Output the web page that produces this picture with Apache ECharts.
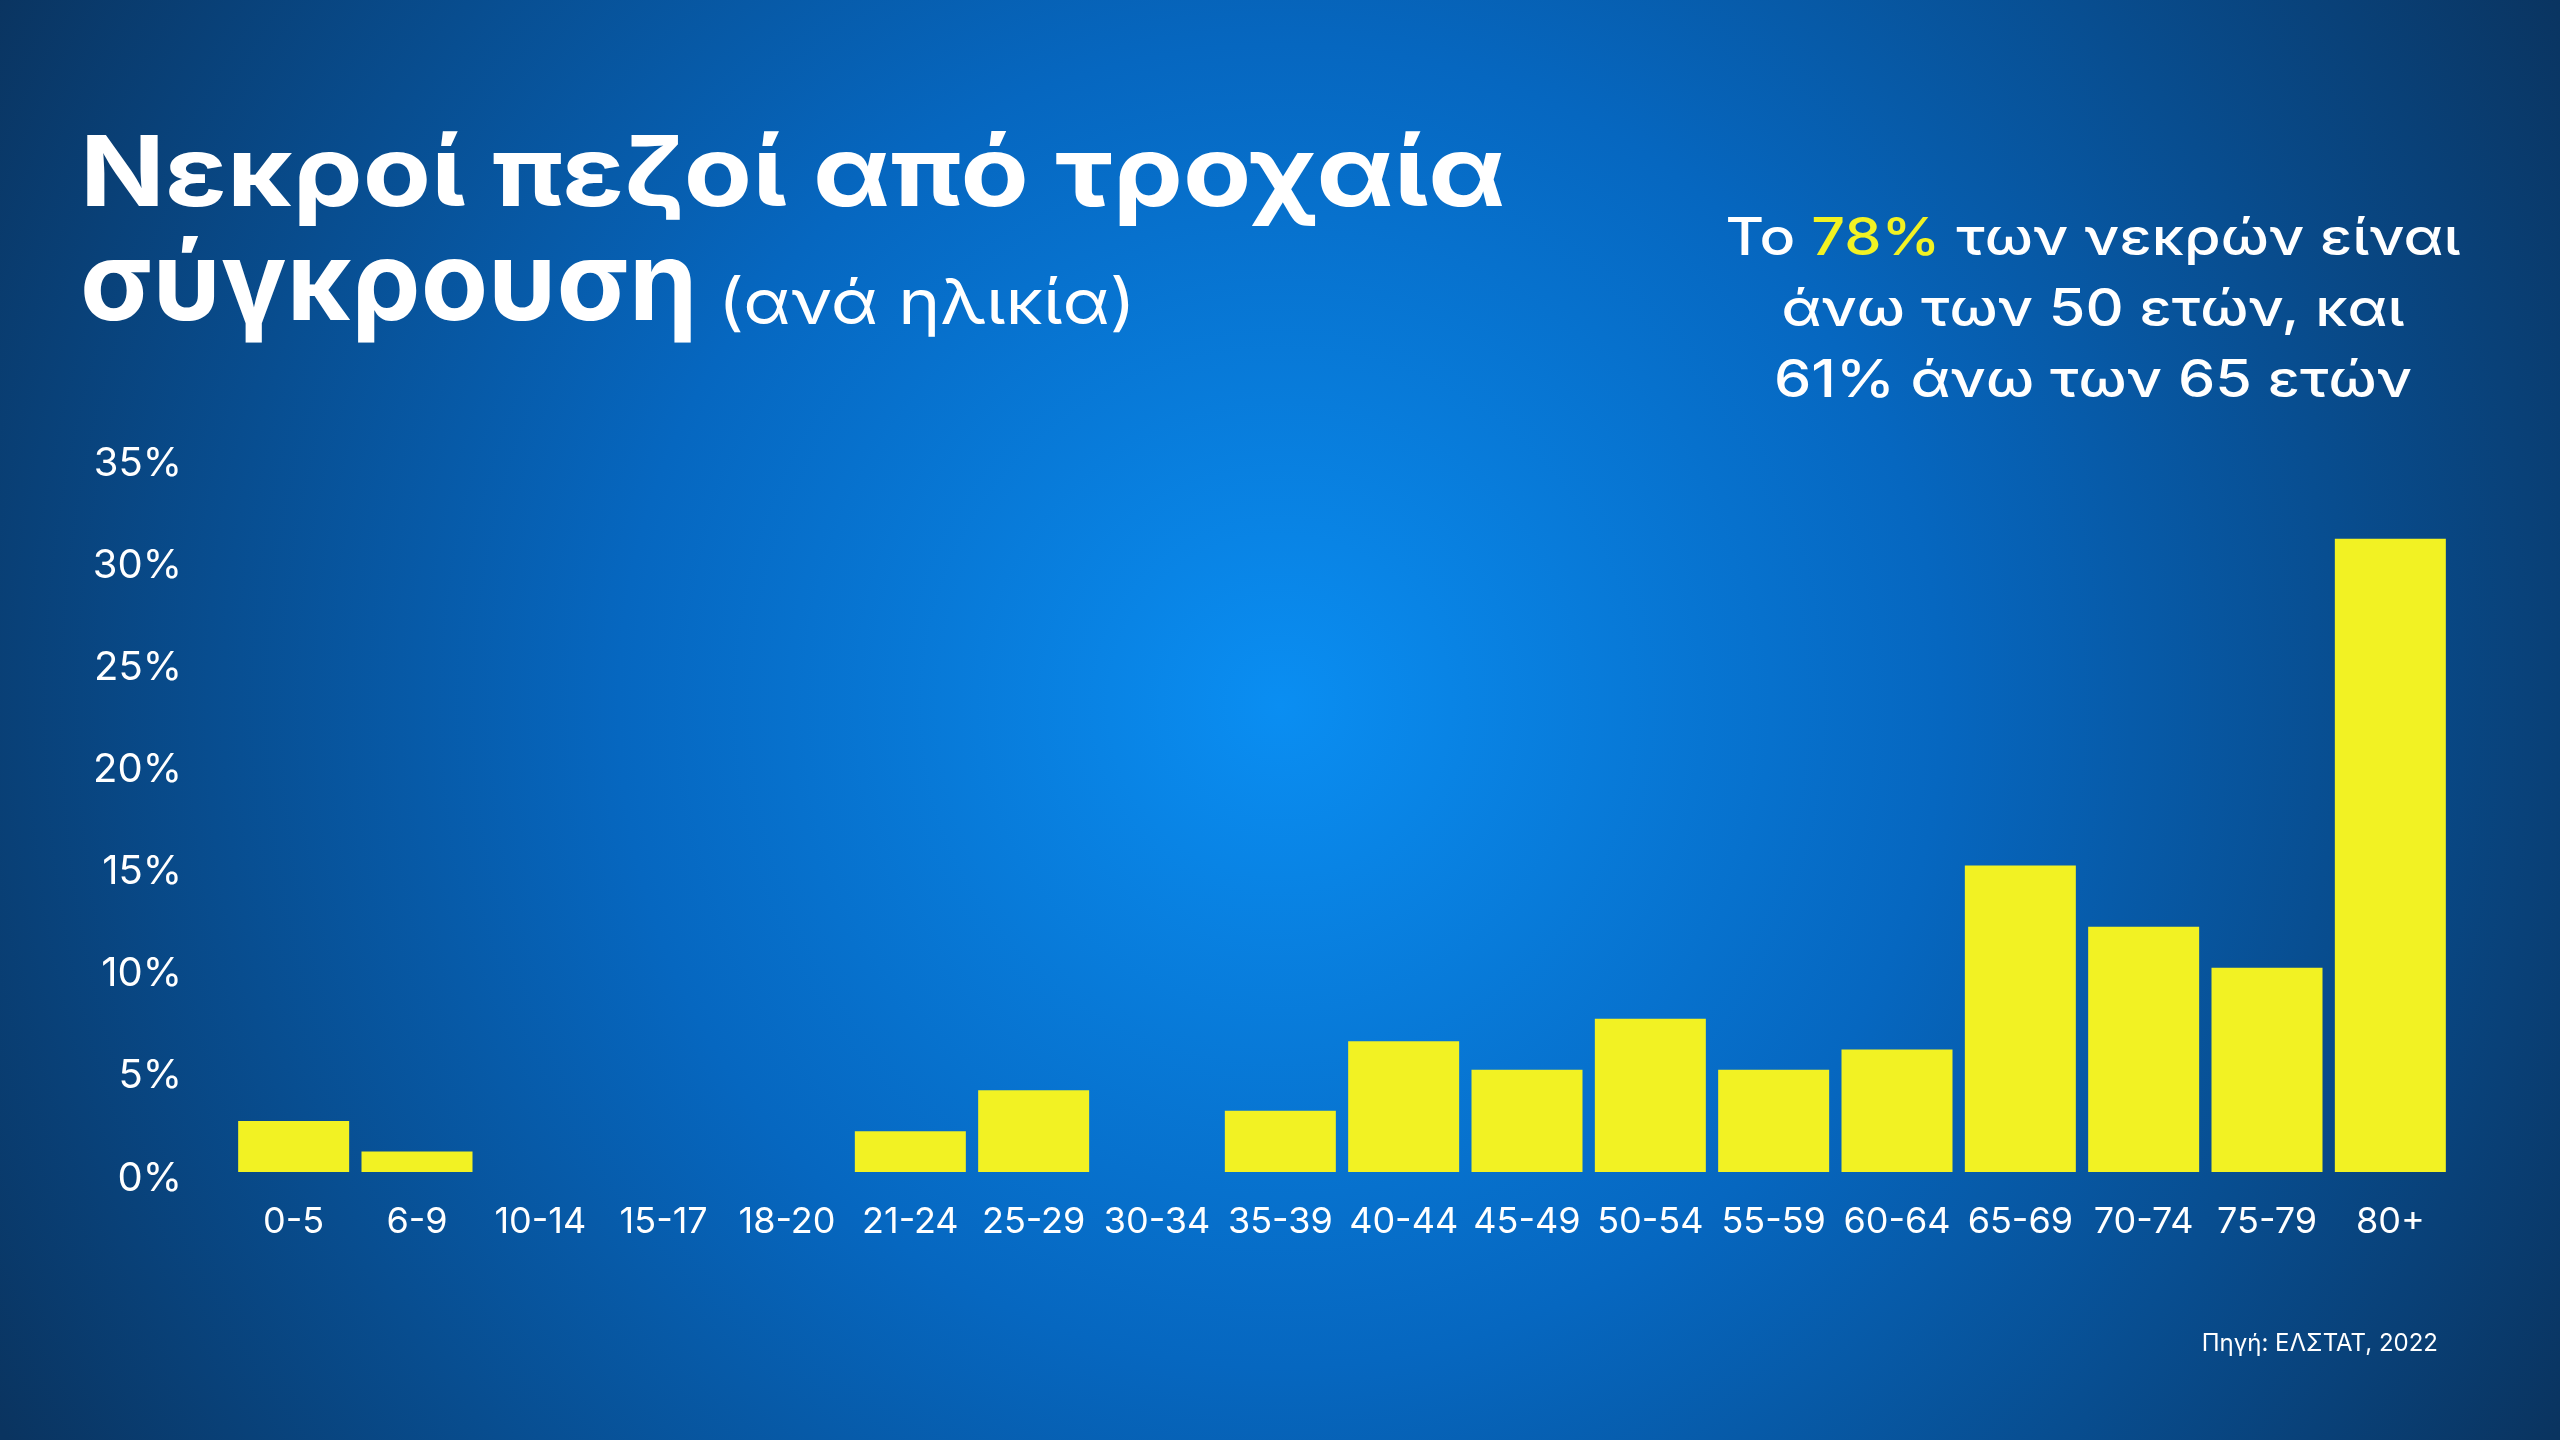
<!DOCTYPE html>
<html>
<head>
<meta charset="utf-8">
<script src="https://cdn.jsdelivr.net/npm/echarts@6/dist/echarts.min.js"></script>
<style>html,body{margin:0;padding:0;width:100%;height:100%;overflow:hidden}#c{width:2560px;height:1440px}</style>
</head>
<body>
<div id="c"></div>
<script>
const categories = ['0-5','6-9','10-14','15-17','18-20','21-24','25-29','30-34','35-39','40-44','45-49','50-54','55-59','60-64','65-69','70-74','75-79','80+'];
const shares = [2.5, 1.0, 0, 0, 0, 2.0, 4.0, 0, 3.0, 6.4, 5.0, 7.5, 5.0, 6.0, 15.0, 12.0, 10.0, 31.0];
const yTicks = [0, 5, 10, 15, 20, 25, 30, 35];
const titleLine1 = 'Νεκροί πεζοί από τροχαία';
const titleLine2 = 'σύγκρουση';
const titleSub = '(ανά ηλικία)';
const noteLines = ['Το {y|78%} των νεκρών είναι', 'άνω των 50 ετών, και', '61% άνω των 65 ετών'];
const sourceText = 'Πηγή: ΕΛΣΤΑΤ, 2022';

const FONT = 'Inter, "Noto Sans", sans-serif';
const chart = echarts.init(document.getElementById('c'));
chart.setOption({
  backgroundColor: {
    type: 'radial', x: 0.5, y: 0.49, r: 1.02,
    colorStops: [
      {offset: 0, color: '#0a8ef2'},
      {offset: 0.45, color: '#0667c0'},
      {offset: 1, color: '#0a3460'}
    ]
  },
  animation: false,
  grid: {left: 232, right: 108, top: 457, bottom: 268, containLabel: false},
  xAxis: {
    type: 'category', data: categories,
    axisLine: {show: false}, axisTick: {show: false},
    axisLabel: {color: '#ffffff', fontSize: 36, fontFamily: FONT, margin: 32, interval: 0}
  },
  yAxis: {
    type: 'value', min: yTicks[0], max: yTicks[yTicks.length - 1], interval: yTicks[1] - yTicks[0],
    axisLine: {show: false}, axisTick: {show: false}, splitLine: {show: false},
    axisLabel: {
      color: '#ffffff', fontSize: 40, fontFamily: FONT, margin: 50,
      formatter: function (v) { return '{a|' + v + '%}'; },
      rich: {a: {color: '#ffffff', fontSize: 40, fontFamily: FONT, padding: [13, 0, 0, 0]}}
    }
  },
  series: [{
    type: 'bar', data: shares, barCategoryGap: '10%',
    itemStyle: {color: '#f2f223'}
  }],
  graphic: [
    {type: 'text', x: 80, y: 128, scaleX: 1.137, style: {text: titleLine1, fill: '#ffffff', font: 'bold 98px ' + FONT}},
    {type: 'text', x: 80, y: 287, scaleX: 1.0, style: {text: titleLine2, fill: '#ffffff', font: 'bold 110px ' + FONT, verticalAlign: 'middle'}},
    {type: 'text', x: 718, y: 305, scaleX: 1.13, style: {text: titleSub, fill: '#ffffff', font: 'normal 63px ' + FONT, verticalAlign: 'middle'}},
    {type: 'text', x: 2093, y: 310, scaleX: 1.14, style: {
      text: noteLines.join('\n'), fill: '#ffffff', align: 'center', verticalAlign: 'middle',
      fontSize: 52, fontFamily: FONT, fontWeight: 500, lineHeight: 71,
      rich: {y: {fill: '#f2f223', fontSize: 52, fontFamily: FONT, fontWeight: 500, lineHeight: 71}}
    }},
    {type: 'text', x: 2438, y: 1344, style: {text: sourceText, fill: '#ffffff', align: 'right', verticalAlign: 'middle', fontSize: 24, fontFamily: FONT}}
  ]
});
</script>
</body>
</html>
